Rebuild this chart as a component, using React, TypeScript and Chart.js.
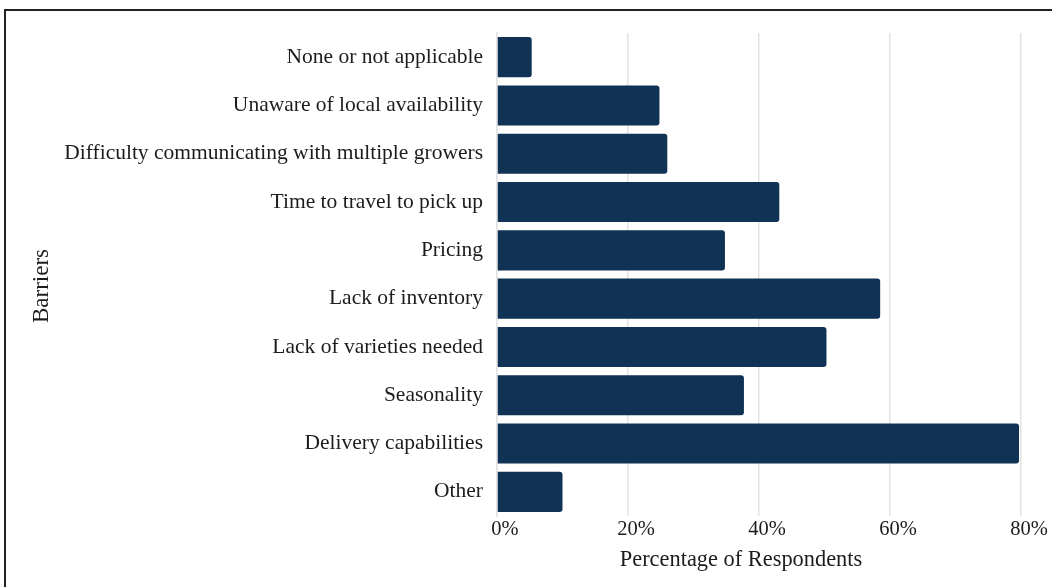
import React, { useEffect, useRef } from "react";
import { Chart, registerables } from "chart.js";

Chart.register(...registerables);

const categories = [
  "None or not applicable",
  "Unaware of local availability",
  "Difficulty communicating with multiple growers",
  "Time to travel to pick up",
  "Pricing",
  "Lack of inventory",
  "Lack of varieties needed",
  "Seasonality",
  "Delivery capabilities",
  "Other",
];

const percentages = [5.3, 24.8, 26.0, 43.1, 34.8, 58.5, 50.3, 37.7, 79.7, 10.0];

const xTicks = [0, 20, 40, 60, 80];

const xTitle = "Percentage of Respondents";
const yTitle = "Barriers";

const FONT = "'Liberation Serif', 'Times New Roman', serif";
const TEXT = "#1c1c1c";

const axisTitles = {
  id: "axisTitles",
  afterDraw(chart: any) {
    const ctx = chart.ctx;
    ctx.save();
    ctx.fillStyle = TEXT;
    ctx.textAlign = "center";
    ctx.textBaseline = "middle";
    ctx.font = `22.4px ${FONT}`;
    ctx.fillText(xTitle, 741, 560);
    ctx.font = `23px ${FONT}`;
    ctx.translate(42, 286);
    ctx.rotate(-Math.PI / 2);
    ctx.fillText(yTitle, 0, 0);
    ctx.restore();
  },
};

export default function App() {
  const ref = useRef<HTMLCanvasElement | null>(null);

  useEffect(() => {
    document.body.style.margin = "0";
    const canvas = ref.current;
    if (!canvas) return;
    const chart = new Chart(canvas, {
      type: "bar",
      data: {
        labels: categories,
        datasets: [
          {
            data: percentages,
            backgroundColor: "#103254",
            borderColor: "#103254",
            borderWidth: 0,
            borderRadius: 3,
            borderSkipped: "start",
            categoryPercentage: 0.83,
            barPercentage: 1,
          },
        ],
      },
      plugins: [axisTitles],
      options: {
        indexAxis: "y",
        animation: false,
        responsive: false,
        maintainAspectRatio: false,
        layout: { padding: { left: 5, right: 31, top: 33, bottom: 0 } },
        plugins: {
          legend: { display: false },
          tooltip: { enabled: false },
        },
        scales: {
          x: {
            min: 0,
            max: 80,
            afterBuildTicks: (scale: any) => {
              scale.ticks = xTicks.map((v) => ({ value: v }));
            },
            afterFit: (scale: any) => {
              scale.height = 71;
            },
            grid: { color: "#e3e3e3", lineWidth: 1.5, drawTicks: false },
            border: { display: false },
            ticks: {
              padding: 1,
              labelOffset: 8,
              color: TEXT,
              font: { family: FONT, size: 20.5 },
              callback: (v: any) => v + "%",
            },
          },
          y: {
            afterFit: (scale: any) => {
              scale.width = 492;
            },
            grid: { display: false, drawTicks: false },
            border: { display: true, color: "#e3e3e3", width: 1.5 },
            ticks: {
              padding: 14,
              color: TEXT,
              font: { family: FONT, size: 21.5 },
            },
          },
        },
      },
    });
    return () => chart.destroy();
  }, []);

  return (
    <div style={{ position: "relative", width: 1052, height: 587, overflow: "hidden", background: "#fff" }}>
      <div
        style={{
          position: "absolute",
          left: 4,
          top: 9,
          width: 1100,
          height: 700,
          borderTop: "2px solid #222",
          borderLeft: "2px solid #222",
        }}
      />
      <canvas ref={ref} width={1052} height={587} style={{ position: "absolute", left: 0, top: 0, display: "block" }} />
    </div>
  );
}
